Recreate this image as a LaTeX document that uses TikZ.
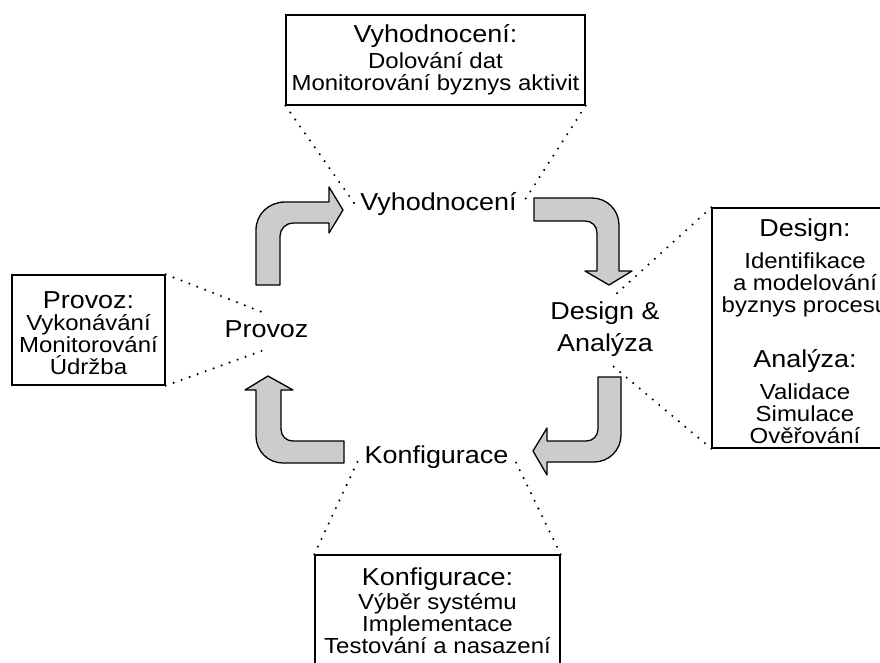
\documentclass[tikz,border=0pt]{standalone}
\usepackage{fontspec}
\newfontfamily\hv{Liberation Sans}[FakeStretch=1.1]
\usetikzlibrary{calc}

\newcommand\hdrfont{\hv\fontsize{24.5}{28}\selectfont\lineskiplimit=-30pt\relax}
\newcommand\subfont{\hv\fontsize{21.8}{22}\selectfont\lineskiplimit=-30pt\relax}

\begin{document}
\begin{tikzpicture}[x=1pt, y=-1pt, every node/.style = {align=center},
	infobox/.style = {draw, line width=1.3pt, inner sep=0pt, font=\subfont},
	lbl/.style = {font=\hdrfont, inner sep=5pt},
	oneline/.style = {text height=18pt, text depth=7pt},
	pointer/.style = {line width=2.3pt, line cap=round, dash pattern=on 0pt off 8.5pt},
	bent/.style = {draw, fill=black!20, line width=1.3pt, line join=round}]
		\useasboundingbox (0,0) rectangle (880,662);
		\clip (0,0) rectangle (880,662);

		% cycle labels
		\node[lbl, oneline, anchor=base] (lVyh) at (438.5,210) {Vyhodnocení};
		\node[lbl, oneline, anchor=base] (lProv) at (266.5,337) {Provoz};
		\node[lbl] (lDes) at (605,329.5) {Design \&\\[4pt] Analýza};
		\node[lbl, oneline, anchor=base] (lKon) at (436.5,463) {Konfigurace};

		% boxes
		\node[infobox, minimum width=299pt, minimum height=90pt] (bVyh) at (435.5,60)
			{{\hdrfont Vyhodnocení:}\\[4pt] Dolování dat\\ Monitorování byznys aktivit};
		\node[infobox, minimum width=153pt, minimum height=110pt] (bProv) at (88.5,330)
			{{\hdrfont\rule{0pt}{24pt}Provoz:}\\ Vykonávání\\ Monitorování\\ Údržba};
		\node[infobox, minimum width=186pt, minimum height=240pt] (bDes) at (805,328)
			{{\hdrfont\rule{0pt}{24pt}Design:}\\[10pt] Identifikace\\ a modelování\\ byznys procesu\\[33pt]
			 {\hdrfont Analýza:}\\[10pt] Validace\\ Simulace\\ Ověřování};
		\node[infobox, minimum width=245pt, minimum height=112pt] (bKon) at (437.5,611)
			{{\hdrfont Konfigurace:}\\[2pt] Výběr systému\\ Implementace\\ Testování a nasazení};

		\draw[pointer] (bVyh.south west) -- (lVyh.west) (bVyh.south east) -- (lVyh.east);
		\draw[pointer] (bProv.north east) -- (lProv.north) (bProv.south east) -- (lProv.south);
		\draw[pointer] (bDes.north west) -- ($(lDes.north)+(8,0)$) (bDes.south west) -- ($(lDes.south)+(8,4)$);
		\draw[pointer] (bKon.north west) -- (lKon.west) (bKon.north east) -- (lKon.east);

		% bent arrows
		\draw[bent] (256,285) -- (256,230) .. controls (256,214) and (269,202) .. (285,202)
			-- (329,202) -- (329,187) -- (343,210) -- (329,233) -- (329,223) -- (293,223)
			.. controls (286,223) and (280,229) .. (280,236) -- (280,285) -- cycle;
		\draw[bent] (534,198) -- (592,198) .. controls (607,198) and (619,210) .. (619,225)
			-- (619,271) -- (632,271) -- (609,285) -- (585,271) -- (597,271) -- (597,233)
			.. controls (597,226) and (592,221) .. (585,221) -- (534,221) -- cycle;
		\draw[bent] (598,377) -- (621,377) -- (621,435) .. controls (621,450) and (609,462) .. (594,462)
			-- (547,462) -- (547,475) -- (533,451) -- (547,428) -- (547,441) -- (586,441)
			.. controls (593,441) and (598,436) .. (598,429) -- cycle;
		\draw[bent] (344,441) -- (344,463) -- (283,463) .. controls (268,463) and (256,451) .. (256,436)
			-- (256,390) -- (245,390) -- (268,376) -- (293,390) -- (281,390) -- (281,429)
			.. controls (281,436) and (286,441) .. (293,441) -- cycle;
\end{tikzpicture}
\end{document}
